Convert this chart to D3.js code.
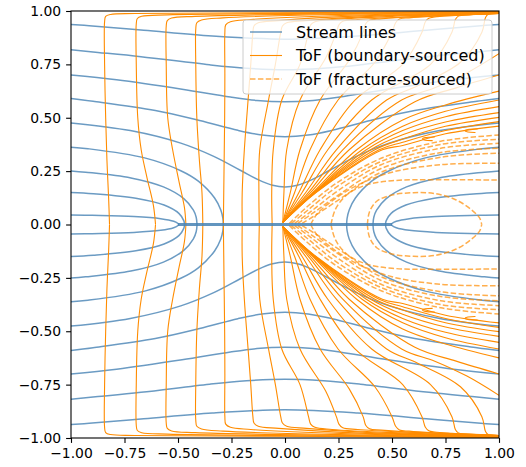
<!DOCTYPE html>
<html>
<head>
<meta charset="utf-8">
<script src="https://cdn.jsdelivr.net/npm/d3@7"></script>
<style>
  body { margin: 0; background: #fff; }
  svg { display: block; }
  text { font-family: "DejaVu Sans", sans-serif; }
</style>
</head>
<body>
<div id="chart"></div>
<script>
// axis ticks
const tickValues = [-1, -0.75, -0.5, -0.25, 0, 0.25, 0.5, 0.75, 1]

// stream lines in the upper half that pass over the fracture (left wall -> right wall)
const streamOver = [
  [[-1, 0.937], [-0.915, 0.931], [-0.66, 0.91], [-0.34, 0.883], [0, 0.868], [0.34, 0.883], [0.66, 0.91], [0.915, 0.931], [1, 0.937]],
  [[-1, 0.818], [-0.874, 0.806], [-0.673, 0.786], [-0.353, 0.748], [-0.18, 0.732], [0, 0.725], [0.18, 0.732], [0.353, 0.748], [0.673, 0.786], [0.874, 0.806], [1, 0.818]],
  [[-1, 0.70], [-0.787, 0.678], [-0.481, 0.634], [-0.255, 0.597], [-0.131, 0.581], [0, 0.575], [0.131, 0.581], [0.255, 0.597], [0.481, 0.634], [0.787, 0.678], [1, 0.70]],
  [[-1, 0.59], [-0.897, 0.577], [-0.606, 0.534], [-0.399, 0.487], [-0.22, 0.441], [-0.108, 0.419], [0, 0.411], [0.108, 0.419], [0.22, 0.441], [0.399, 0.487], [0.606, 0.534], [0.897, 0.577], [1, 0.59]],
  [[-1, 0.476], [-0.723, 0.44], [-0.487, 0.381], [-0.333, 0.319], [-0.209, 0.254], [-0.126, 0.21], [-0.058, 0.184], [0, 0.176], [0.058, 0.184], [0.126, 0.21], [0.209, 0.254], [0.333, 0.319], [0.487, 0.381], [0.723, 0.44], [1, 0.476]]
]

// stream lines in the upper half that run into the fracture from the left wall
const streamIn = [
  [[-1, 0.362], [-0.921, 0.355], [-0.656, 0.312], [-0.487, 0.252], [-0.405, 0.203], [-0.329, 0.124], [-0.300, 0.068], [-0.290, 0.028], [-0.288, 0]],
  [[-1, 0.251], [-0.932, 0.245], [-0.72, 0.218], [-0.568, 0.176], [-0.473, 0.121], [-0.428, 0.067], [-0.415, 0.034], [-0.411, 0]],
  [[-1, 0.15], [-0.896, 0.144], [-0.697, 0.123], [-0.565, 0.091], [-0.496, 0.052], [-0.473, 0.018], [-0.4695, 0]],
  [[-1, 0.045], [-0.901, 0.043], [-0.706, 0.037], [-0.581, 0.027], [-0.52, 0.015], [-0.5, 0.005], [-0.497, 0]]
]

// stream lines in the upper half leaving the fracture to the right wall
const streamOut = [
  [[0.288, 0], [0.290, 0.028], [0.300, 0.068], [0.329, 0.124], [0.405, 0.203], [0.487, 0.252], [0.656, 0.312], [0.921, 0.355], [1, 0.362]],
  [[0.411, 0], [0.415, 0.034], [0.428, 0.067], [0.473, 0.121], [0.568, 0.176], [0.72, 0.218], [0.932, 0.245], [1, 0.251]],
  [[0.4695, 0], [0.473, 0.018], [0.496, 0.052], [0.565, 0.091], [0.697, 0.123], [0.896, 0.144], [1, 0.15]],
  [[0.497, 0], [0.5, 0.005], [0.52, 0.015], [0.581, 0.027], [0.706, 0.037], [0.901, 0.043], [1, 0.045]]
]

// the fracture itself (flow inside it)
const fracture = [[-0.5, 0], [0.5, 0]]

// time-of-flight contours from the inflow boundary, upper half (wall end first)
const tofBoundary = [
  [[1, 0.997], [0.2, 0.993], [-0.7, 0.988], [-0.815, 0.984], [-0.838, 0.975], [-0.843, 0.95], [-0.843, 0.75], [-0.838, 0.5], [-0.832, 0.3], [-0.824, 0.12], [-0.82, 0]],
  [[1, 0.996], [0.2, 0.99], [-0.55, 0.982], [-0.67, 0.975], [-0.69, 0.965], [-0.695, 0.94], [-0.695, 0.75], [-0.688, 0.5], [-0.672, 0.35], [-0.645, 0.22], [-0.615, 0.09], [-0.605, 0]],
  [[1, 0.995], [0.2, 0.987], [-0.42, 0.975], [-0.53, 0.967], [-0.55, 0.955], [-0.555, 0.93], [-0.555, 0.75], [-0.548, 0.5], [-0.525, 0.35], [-0.495, 0.2], [-0.47, 0.08], [-0.463, 0]],
  [[1, 0.994], [0.25, 0.984], [-0.29, 0.968], [-0.39, 0.958], [-0.412, 0.945], [-0.417, 0.915], [-0.417, 0.75], [-0.412, 0.5], [-0.4, 0.3], [-0.388, 0.15], [-0.384, 0]],
  [[1, 0.993], [0.3, 0.98], [-0.16, 0.96], [-0.255, 0.95], [-0.277, 0.935], [-0.281, 0.9], [-0.281, 0.7], [-0.282, 0.5], [-0.285, 0.25], [-0.288, 0]],
  [[1, 0.992], [0.35, 0.977], [-0.03, 0.955], [-0.125, 0.945], [-0.145, 0.93], [-0.15, 0.9], [-0.16, 0.75], [-0.175, 0.55], [-0.19, 0.35], [-0.2, 0.15], [-0.2, 0]],
  [[1, 0.991], [0.4, 0.975], [0.1, 0.955], [0.008, 0.945], [-0.012, 0.93], [-0.02, 0.9], [-0.045, 0.75], [-0.077, 0.583], [-0.118, 0.35], [-0.122, 0.15], [-0.12, 0]],
  [[1, 0.99], [0.5, 0.975], [0.22, 0.96], [0.14, 0.95], [0.12, 0.935], [0.11, 0.9], [0.07, 0.75], [-0.015, 0.583], [-0.055, 0.35], [-0.062, 0.15], [-0.06, 0]],
  [[1, 0.989], [0.55, 0.972], [0.34, 0.96], [0.27, 0.952], [0.252, 0.935], [0.24, 0.9], [0.19, 0.78], [0.07, 0.583], [0.008, 0.35], [-0.005, 0.15], [-0.01, 0.01]],
  [[1, 0.988], [0.6, 0.973], [0.45, 0.963], [0.395, 0.957], [0.377, 0.94], [0.365, 0.9], [0.3, 0.77], [0.164, 0.583], [0.07, 0.35], [0.025, 0.15], [-0.01, 0.01]],
  [[1, 0.988], [0.7, 0.976], [0.58, 0.968], [0.535, 0.962], [0.517, 0.945], [0.5, 0.9], [0.42, 0.76], [0.248, 0.583], [0.117, 0.35], [0.045, 0.15], [-0.01, 0.01]],
  [[1, 0.988], [0.78, 0.978], [0.7, 0.972], [0.672, 0.966], [0.656, 0.95], [0.64, 0.9], [0.55, 0.75], [0.327, 0.583], [0.164, 0.35], [0.065, 0.15], [-0.01, 0.01]],
  [[1, 0.988], [0.86, 0.982], [0.81, 0.976], [0.796, 0.96], [0.78, 0.9], [0.68, 0.75], [0.405, 0.583], [0.2, 0.35], [0.08, 0.15], [-0.01, 0.01]],
  [[1, 0.99], [0.95, 0.985], [0.937, 0.97], [0.92, 0.9], [0.82, 0.76], [0.62, 0.65], [0.475, 0.583], [0.24, 0.35], [0.097, 0.15], [-0.01, 0.01]],
  [[1, 0.80], [0.85, 0.71], [0.7, 0.64], [0.545, 0.583], [0.27, 0.35], [0.11, 0.15], [-0.01, 0.01]],
  [[1, 0.70], [0.8, 0.64], [0.607, 0.575], [0.3, 0.35], [0.12, 0.15], [-0.01, 0.01]],
  [[1, 0.625], [0.75, 0.56], [0.55, 0.49], [0.335, 0.35], [0.13, 0.15], [-0.01, 0.01]],
  [[1, 0.583], [0.75, 0.53], [0.55, 0.46], [0.36, 0.35], [0.134, 0.15], [-0.01, 0.01]],
  [[1, 0.552], [0.75, 0.505], [0.55, 0.44], [0.38, 0.35], [0.137, 0.15], [-0.01, 0.01]],
  [[1, 0.524], [0.75, 0.48], [0.55, 0.42], [0.40, 0.35], [0.139, 0.15], [-0.01, 0.01]],
  [[1, 0.502], [0.75, 0.46], [0.55, 0.40], [0.42, 0.35], [0.141, 0.15], [-0.01, 0.01]],
  [[1, 0.482], [0.75, 0.44], [0.55, 0.385], [0.44, 0.35], [0.143, 0.15], [-0.01, 0.01]],
  [[1, 0.461], [0.75, 0.425], [0.55, 0.37], [0.455, 0.35], [0.145, 0.15], [-0.01, 0.01]],
  // short curled ends next to the dividing stream line
  [[0.7, 0.41], [0.655, 0.407], [0.642, 0.401], [0.655, 0.395], [0.69, 0.393]],
  [[0.9, 0.447], [0.855, 0.445], [0.841, 0.439], [0.855, 0.433], [0.89, 0.431]]
]

// time-of-flight contours from the fracture, upper half
const tofFracture = [
  [[0.385, 0], [0.395, 0.06], [0.43, 0.11], [0.5, 0.138], [0.6, 0.149], [0.7, 0.145], [0.8, 0.115], [0.87, 0.07], [0.91, 0.03], [0.919, 0]],
  [[0.215, 0], [0.235, 0.07], [0.29, 0.14], [0.38, 0.185], [0.5, 0.205], [0.7, 0.21], [1, 0.208]],
  [[0.12, 0], [0.15, 0.05], [0.22, 0.11], [0.33, 0.18], [0.5, 0.245], [0.728, 0.28], [1, 0.287]],
  [[0.08, 0.005], [0.16, 0.055], [0.28, 0.135], [0.449, 0.245], [0.728, 0.315], [1, 0.334]],
  [[0.06, 0.005], [0.14, 0.06], [0.26, 0.145], [0.449, 0.262], [0.728, 0.337], [1, 0.357]],
  [[0.045, 0.005], [0.12, 0.06], [0.25, 0.16], [0.449, 0.28], [0.728, 0.357], [1, 0.38]],
  [[0.03, 0.005], [0.11, 0.07], [0.24, 0.175], [0.449, 0.295], [0.728, 0.375], [1, 0.399]],
  [[0.02, 0.005], [0.1, 0.08], [0.235, 0.19], [0.449, 0.31], [0.728, 0.39], [1, 0.419]]
]

const legendLabels = ['Stream lines', 'ToF (boundary-sourced)', 'ToF (fracture-sourced)']

let margin = { top: 11, left: 71, right: 27, bottom: 29 }
let width = 428
let height = 427

let svg = d3
  .select('#chart')
  .append('svg')
  .attr('width', 526)
  .attr('height', 467)
  .append('g')
  .attr('transform', `translate(${margin.left},${margin.top})`)

let x = d3.scaleLinear().domain([-1, 1]).range([0, width])
let y = d3.scaleLinear().domain([-1, 1]).range([height, 0])

let line = d3
  .line()
  .x(d => x(d[0]))
  .y(d => y(d[1]))
  .curve(d3.curveCatmullRom.alpha(0.5))

// mirror a half-plane line onto the lower half
let flip = pts => pts.map(d => [d[0], -d[1]])

svg
  .append('clipPath')
  .attr('id', 'plot-clip')
  .append('rect')
  .attr('width', width)
  .attr('height', height)

let plot = svg.append('g').attr('clip-path', 'url(#plot-clip)')

let blue = '#4682b4'
let orange = '#ff8c00'

let streams = [...streamOver, ...streamIn, ...streamOut]
streams = streams.concat(streams.map(flip))

plot
  .selectAll('.stream')
  .data(streams)
  .enter()
  .append('path')
  .attr('class', 'stream')
  .attr('d', line)
  .attr('fill', 'none')
  .attr('stroke', blue)
  .attr('stroke-opacity', 0.8)
  .attr('stroke-width', 1.5)

let solid = tofBoundary.concat(tofBoundary.map(flip))
plot
  .selectAll('.tof-b')
  .data(solid)
  .enter()
  .append('path')
  .attr('class', 'tof-b')
  .attr('d', line)
  .attr('fill', 'none')
  .attr('stroke', orange)
  .attr('stroke-width', 1.1)

let dashed = tofFracture.concat(tofFracture.map(flip))
plot
  .selectAll('.tof-f')
  .data(dashed)
  .enter()
  .append('path')
  .attr('class', 'tof-f')
  .attr('d', line)
  .attr('fill', 'none')
  .attr('stroke', orange)
  .attr('stroke-opacity', 0.7)
  .attr('stroke-width', 1.5)
  .attr('stroke-dasharray', '5.5,2.4')

// fracture drawn last so it sits over the converging contours
plot
  .append('path')
  .datum(fracture)
  .attr('d', d3.line().x(d => x(d[0])).y(d => y(d[1])))
  .attr('stroke', blue)
  .attr('stroke-opacity', 0.85)
  .attr('stroke-width', 3)

// axes
let fmt = d3.format('.2f')
let xAxis = svg
  .append('g')
  .attr('transform', `translate(0,${height})`)
  .call(d3.axisBottom(x).tickValues(tickValues).tickFormat(fmt).tickSize(4.9).tickPadding(4.9))
let yAxis = svg
  .append('g')
  .call(d3.axisLeft(y).tickValues(tickValues).tickFormat(fmt).tickSize(4.9).tickPadding(4.9))

;[xAxis, yAxis].forEach(ax => {
  ax.select('.domain').remove()
  ax.selectAll('line').attr('stroke', '#000').attr('stroke-width', 1.1)
  ax.selectAll('text')
    .attr('font-family', '"DejaVu Sans", sans-serif')
    .attr('font-size', 13.9)
    .attr('fill', '#000')
})

svg
  .append('rect')
  .attr('width', width)
  .attr('height', height)
  .attr('fill', 'none')
  .attr('stroke', '#000')
  .attr('stroke-width', 1.1)

// legend
let legend = svg.append('g').attr('transform', `translate(${243 - margin.left},${20 - margin.top})`)
legend
  .append('rect')
  .attr('width', 249)
  .attr('height', 74)
  .attr('rx', 3)
  .attr('fill', '#fff')
  .attr('fill-opacity', 0.8)
  .attr('stroke', '#cccccc')
  .attr('stroke-width', 1)

let styles = [
  { color: blue, op: 0.8, w: 1.5, dash: null },
  { color: orange, op: 1, w: 1.1, dash: null },
  { color: orange, op: 0.7, w: 1.5, dash: '5.5,2.4' }
]

legendLabels.forEach((label, i) => {
  let row = legend.append('g').attr('transform', `translate(0,${12 + i * 23.5})`)
  row
    .append('line')
    .attr('x1', 7)
    .attr('x2', 39)
    .attr('stroke', styles[i].color)
    .attr('stroke-opacity', styles[i].op)
    .attr('stroke-width', styles[i].w)
    .attr('stroke-dasharray', styles[i].dash)
  row
    .append('text')
    .attr('x', 53)
    .attr('dy', '0.36em')
    .attr('font-size', 16)
    .text(label)
})
</script>
</body>
</html>
